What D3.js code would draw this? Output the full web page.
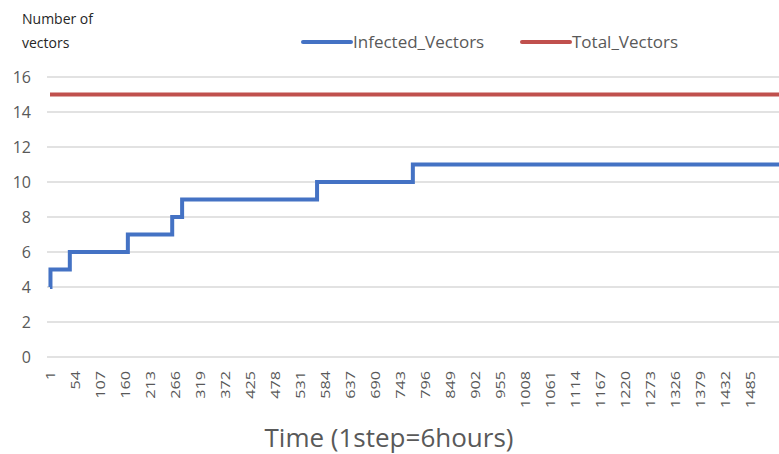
<html>
<head>
    <title>Infected vectors over time</title>
    <script src="https://d3js.org/d3.v7.min.js"></script>
    <style>
        body { margin: 0; background: #fff; }
        text { font-family: "Open Sans", "Liberation Sans", sans-serif; }
    </style>
</head>
<body>
    <svg width="779" height="454"></svg>

    <script>
        // step at which the infected count changes, and the new count
        const infectedSteps = [1, 2, 43, 166, 260, 281, 567, 770, 1546];
        const infectedValues = [4, 5, 6, 7, 8, 9, 10, 11, 11];
        const totalSteps = [1, 1546];
        const totalValues = [15, 15];

        const xTicks = [1, 54, 107, 160, 213, 266, 319, 372, 425, 478, 531, 584, 637, 690,
            743, 796, 849, 902, 955, 1008, 1061, 1114, 1167, 1220, 1273, 1326, 1379, 1432, 1485];
        const yTicks = [0, 2, 4, 6, 8, 10, 12, 14, 16];

        const svg = d3.select('svg');

        const x = d3.scaleLinear().domain([1, 1546]).range([50, 779]);
        const y = d3.scaleLinear().domain([0, 16]).range([357, 77]);

        // gridlines
        svg.append('g').selectAll('line')
            .data(yTicks)
            .join('line')
            .attr('x1', x(1) - 3)
            .attr('x2', 779)
            .attr('y1', d => y(d))
            .attr('y2', d => y(d))
            .attr('stroke', '#d9d9d9')
            .attr('stroke-width', 1.3);

        // y tick labels
        svg.append('g').selectAll('text')
            .data(yTicks)
            .join('text')
            .attr('x', 31)
            .attr('y', d => y(d) + 6)
            .attr('text-anchor', 'end')
            .attr('font-size', 16)
            .attr('fill', '#595959')
            .text(d => d);

        // x tick labels, rotated
        svg.append('g').selectAll('text')
            .data(xTicks)
            .join('text')
            .attr('transform', d => `translate(${x(d) + 5},371) rotate(-90) scale(1.25,1)`)
            .attr('text-anchor', 'end')
            .attr('font-size', 13)
            .attr('fill', '#595959')
            .text(d => d);

        const line = d3.line()
            .x(d => x(d[0]))
            .y(d => y(d[1]))
            .curve(d3.curveStepAfter);

        svg.append('path')
            .datum(d3.zip(totalSteps, totalValues))
            .attr('d', line)
            .attr('fill', 'none')
            .attr('stroke', '#C0504D')
            .attr('stroke-width', 4);

        svg.append('path')
            .datum(d3.zip(infectedSteps, infectedValues))
            .attr('d', line)
            .attr('fill', 'none')
            .attr('stroke', '#4472C4')
            .attr('stroke-width', 4);

        // axis titles
        svg.append('text')
            .attr('x', 22).attr('y', 24)
            .attr('font-size', 14).attr('fill', '#262626')
            .text('Number of');
        svg.append('text')
            .attr('x', 22).attr('y', 48)
            .attr('font-size', 14).attr('fill', '#262626')
            .text('vectors');

        svg.append('text')
            .attr('x', 389).attr('y', 447)
            .attr('text-anchor', 'middle')
            .attr('font-size', 26)
            .attr('fill', '#595959')
            .text('Time (1step=6hours)');

        // legend
        const legend = [
            { name: 'Infected_Vectors', color: '#4472C4', x: 303 },
            { name: 'Total_Vectors', color: '#C0504D', x: 522 }
        ];
        const legendG = svg.append('g').selectAll('g')
            .data(legend)
            .join('g')
            .attr('transform', d => `translate(${d.x},42)`);
        legendG.append('line')
            .attr('x1', 0).attr('x2', 48)
            .attr('stroke', d => d.color)
            .attr('stroke-width', 4)
            .attr('stroke-linecap', 'round');
        legendG.append('text')
            .attr('x', 50).attr('y', 6)
            .attr('font-size', 17)
            .attr('fill', '#595959')
            .text(d => d.name);
    </script>
</body>
</html>
